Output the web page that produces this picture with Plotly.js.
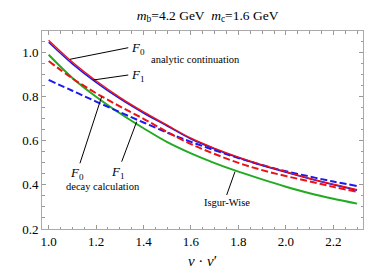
<!DOCTYPE html>
<html>
<head>
<meta charset="utf-8">
<script src="https://cdn.plot.ly/plotly-3.0.1.min.js"></script>
<style>html,body{margin:0;padding:0;background:#fff;}#chart{width:390px;height:276px;}</style>
</head>
<body>
<div id="chart"></div>
<script>
// v·v' sample points
const vv = [1.0, 1.1, 1.2, 1.3, 1.4, 1.5, 1.6, 1.7, 1.8, 1.9, 2.0, 2.1, 2.2, 2.3];
// analytic continuation
const F0_analytic = [1.056, 0.957, 0.872, 0.797, 0.731, 0.671, 0.612, 0.566, 0.526, 0.491, 0.460, 0.430, 0.403, 0.378];
const F1_analytic = [1.047, 0.949, 0.865, 0.791, 0.726, 0.667, 0.608, 0.563, 0.523, 0.488, 0.457, 0.428, 0.401, 0.376];
// decay calculation
const F0_decay = [0.962, 0.883, 0.816, 0.756, 0.700, 0.640, 0.585, 0.540, 0.500, 0.467, 0.440, 0.416, 0.391, 0.369];
const F1_decay = [0.876, 0.827, 0.778, 0.730, 0.683, 0.637, 0.595, 0.557, 0.522, 0.490, 0.462, 0.438, 0.415, 0.395];
// Isgur-Wise
const IW = [0.990, 0.885, 0.800, 0.725, 0.657, 0.594, 0.543, 0.499, 0.460, 0.425, 0.392, 0.362, 0.337, 0.315];

const xTicks = [1.0, 1.2, 1.4, 1.6, 1.8, 2.0, 2.2];
const xTickText = ['1.0', '1.2', '1.4', '1.6', '1.8', '2.0', '2.2'];
const yTicks = [0.2, 0.4, 0.6, 0.8, 1.0];
const yTickText = ['0.2', '0.4', '0.6', '0.8', '1.0'];

const RED = '#ee1111', BLUE = '#1a1aee', GREEN = '#22aa22';

const traces = [
  {x: vv, y: IW, mode: 'lines', line: {color: GREEN, width: 2, shape: 'spline'}},
  {x: vv, y: F1_decay, mode: 'lines', line: {color: BLUE, width: 2, dash: '7px,3px', shape: 'spline'}},
  {x: vv, y: F0_decay, mode: 'lines', line: {color: RED, width: 2, dash: '7px,3px', shape: 'spline'}},
  {x: vv, y: F1_analytic, mode: 'lines', line: {color: BLUE, width: 1.5, shape: 'spline'}},
  {x: vv, y: F0_analytic, mode: 'lines', line: {color: RED, width: 1.3, shape: 'spline'}}
];

const serif = '"Times New Roman", "Liberation Serif", "DejaVu Serif", serif';
function seg(x0, y0, x1, y1) {
  return {type: 'line', xref: 'x', yref: 'y', x0: x0, y0: y0, x1: x1, y1: y1, line: {color: '#000', width: 1}};
}
function label(x, y, text, size, xanchor) {
  return {x: x, y: y, xref: 'x', yref: 'y', text: text, showarrow: false,
          font: {family: serif, size: size, color: '#000'}, xanchor: xanchor || 'center', yanchor: 'middle'};
}

const axisCommon = {
  ticks: 'inside', ticklen: 4, tickcolor: '#999', tickwidth: 1,
  showline: true, linecolor: '#aaa', linewidth: 1, mirror: 'allticks',
  showgrid: false, zeroline: false,
  tickfont: {family: serif, size: 13, color: '#000'}
};

const layout = {
  width: 390, height: 276,
  margin: {l: 42, r: 27, t: 31, b: 47},
  paper_bgcolor: '#fff', plot_bgcolor: '#fff',
  showlegend: false,
  font: {family: serif, color: '#000'},
  title: {text: '<i>m</i><sub>b</sub>=4.2 GeV  <i>m</i><sub>c</sub>=1.6 GeV',
          font: {family: serif, size: 13.5, color: '#000'},
          x: 0.516, xref: 'paper', xanchor: 'center', y: 0.946, yref: 'container', yanchor: 'middle'},
  xaxis: Object.assign({}, axisCommon, {
    range: [0.972, 2.325], tickvals: xTicks, ticktext: xTickText,
    minor: {dtick: 0.05, tick0: 1.0, ticks: 'inside', ticklen: 2.5, tickcolor: '#999'},
    title: {text: '<i>v</i> · <i>v</i>′', font: {family: serif, size: 15, color: '#000'}, standoff: 7}
  }),
  yaxis: Object.assign({}, axisCommon, {
    range: [0.2, 1.098], tickvals: yTicks, ticktext: yTickText,
    minor: {dtick: 0.05, tick0: 0.2, ticks: 'inside', ticklen: 2.5, tickcolor: '#999'}
  }),
  shapes: [
    seg(1.0898, 0.9696, 1.3356, 1.0222),
    seg(1.188, 0.8757, 1.3356, 0.8984),
    seg(1.2234, 0.800, 1.132, 0.498),
    seg(1.371, 0.6866, 1.3078, 0.5052),
    seg(1.7854, 0.4599, 1.7504, 0.3542)
  ],
  annotations: [
    label(1.340, 1.020, '<i>F</i><sub>0</sub>', 13, 'left'),
    label(1.340, 0.896, '<i>F</i><sub>1</sub>', 13, 'left'),
    label(1.621, 0.9696, 'analytic continuation', 10.5),
    label(1.1206, 0.452, '<i>F</i><sub>0</sub>', 13),
    label(1.2934, 0.458, '<i>F</i><sub>1</sub>', 13),
    label(1.2277, 0.395, 'decay calculation', 10.5),
    label(1.7504, 0.319, 'Isgur-Wise', 10.5)
  ]
};

Plotly.newPlot('chart', traces, layout, {staticPlot: true, displayModeBar: false});
</script>
</body>
</html>
